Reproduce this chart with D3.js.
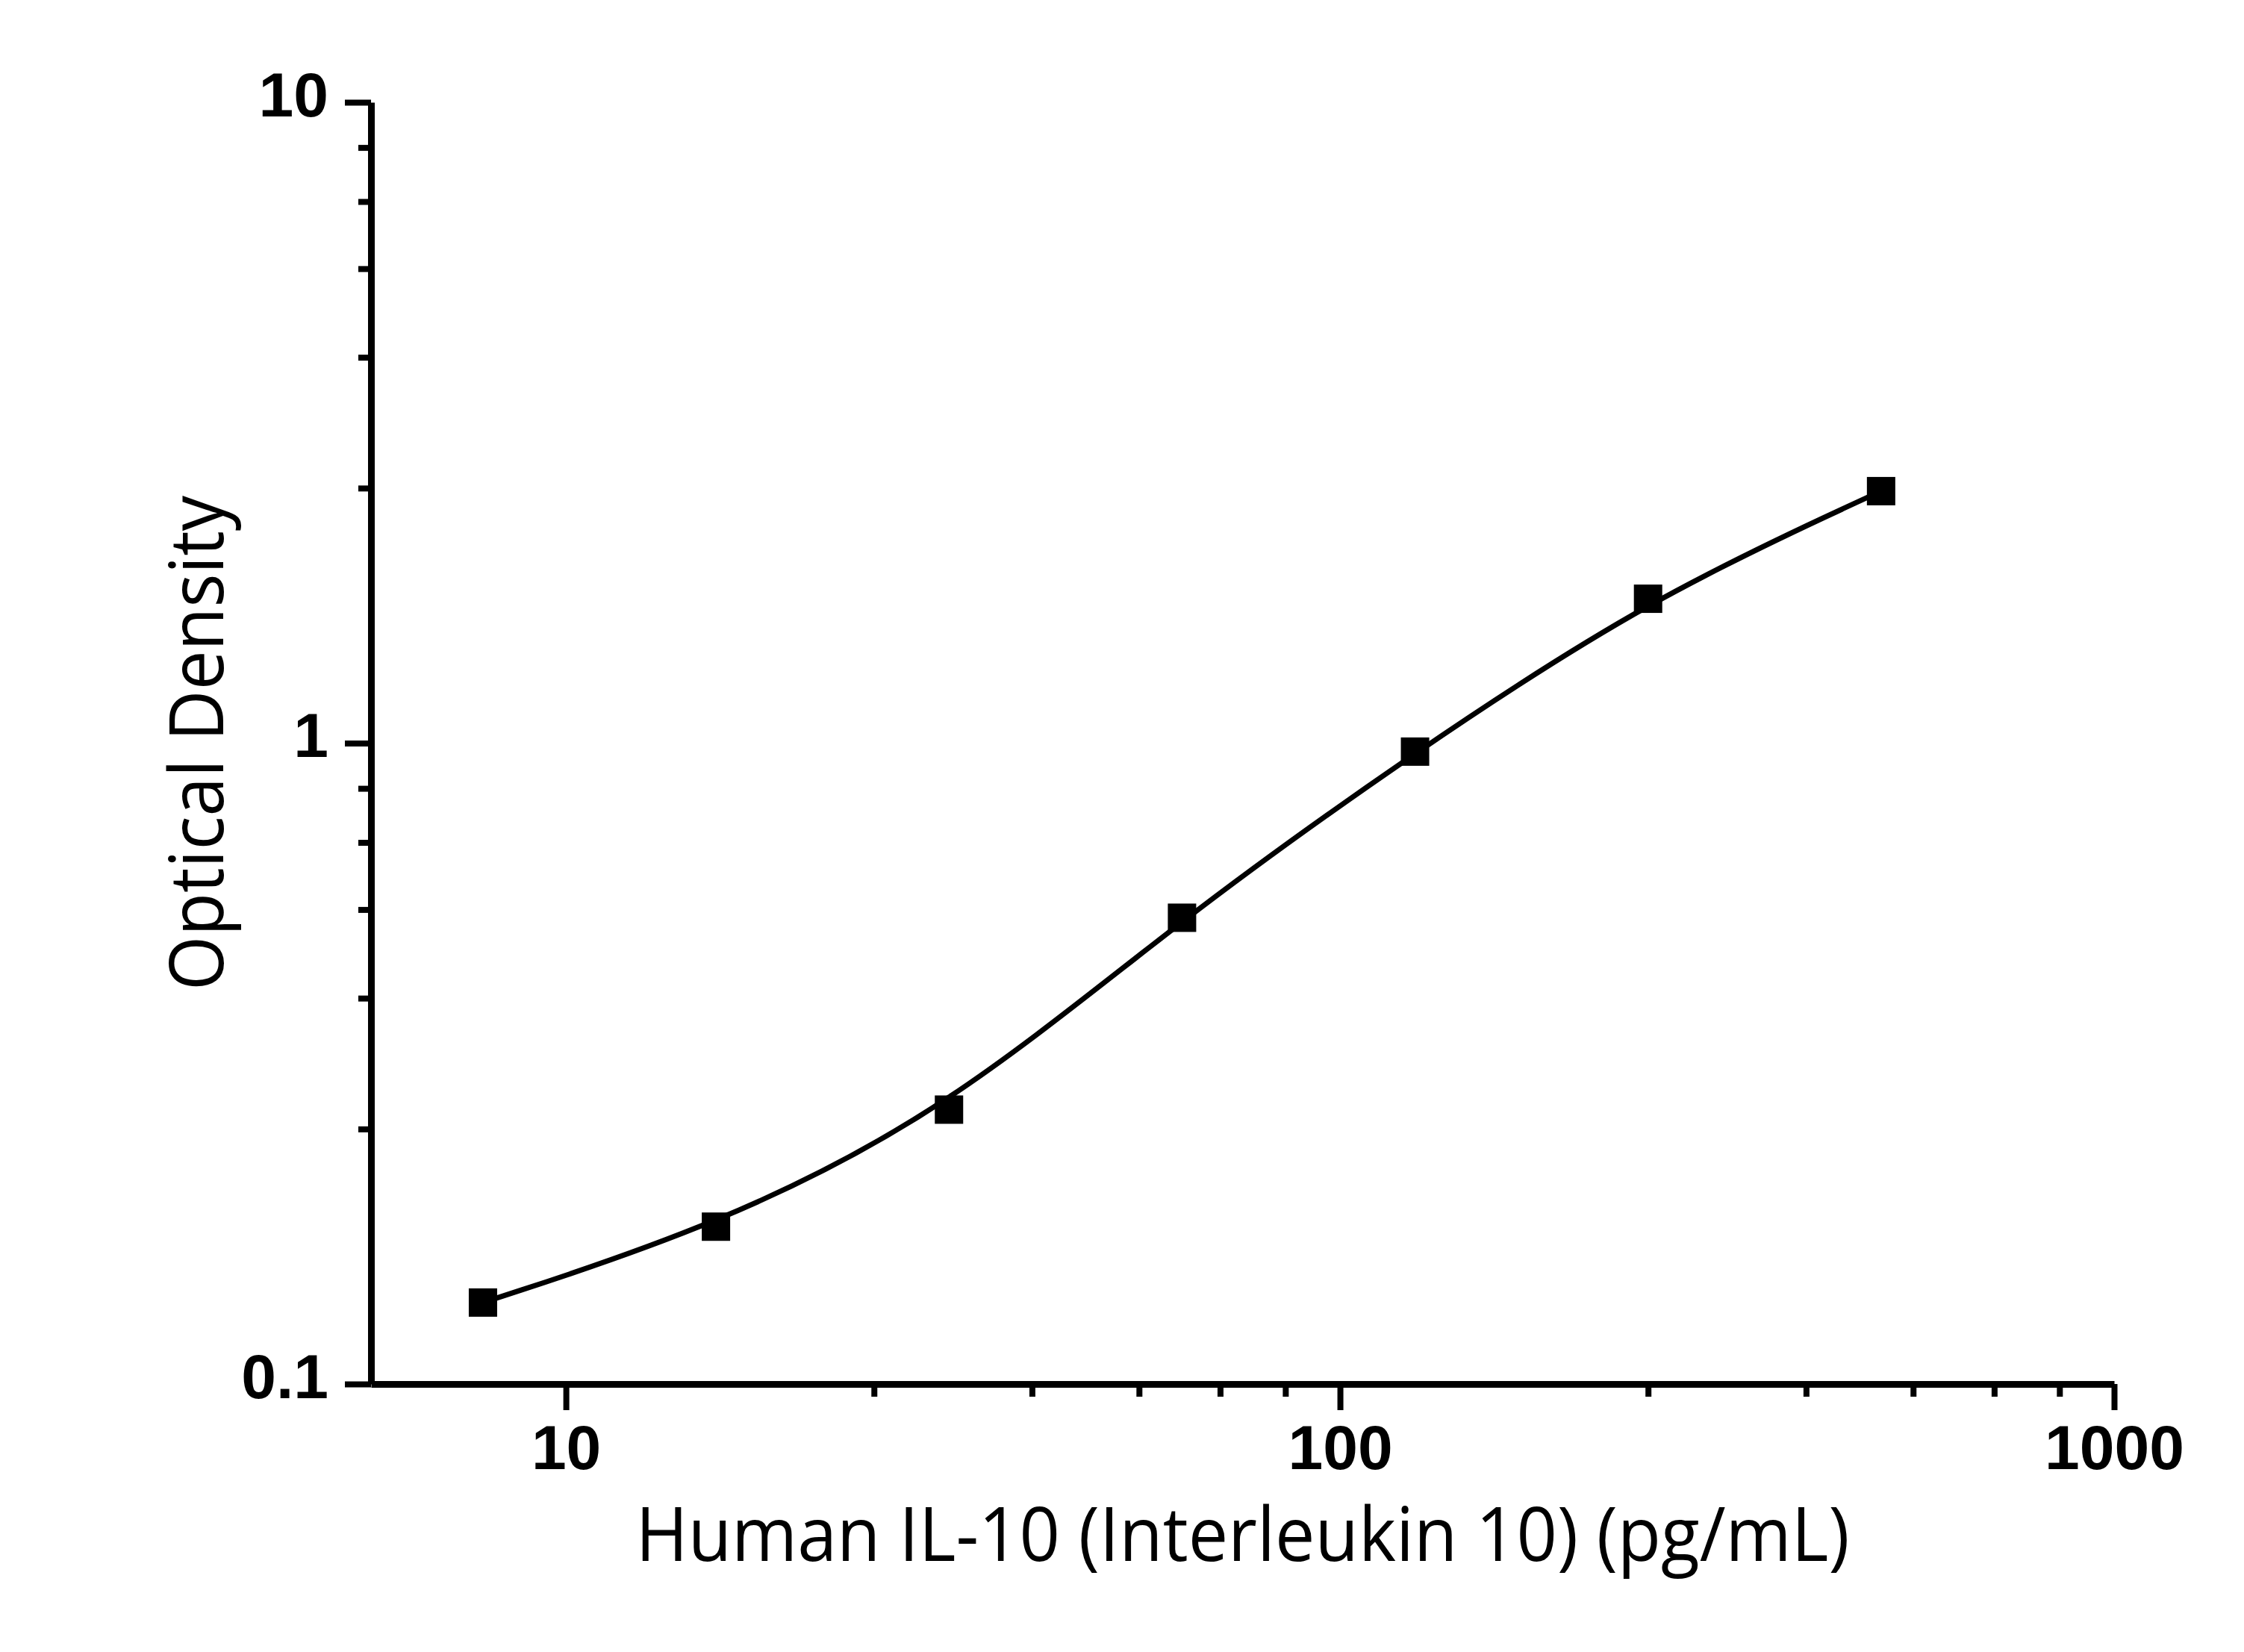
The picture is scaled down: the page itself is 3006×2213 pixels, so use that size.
<!DOCTYPE html>
<html>
<head>
<meta charset="utf-8">
<script src="https://cdn.jsdelivr.net/npm/d3@7"></script>
<style>
  html, body { margin: 0; padding: 0; background: #fff; }
  svg { display: block; }
</style>
</head>
<body>
<svg id="chart" width="3006" height="2213"></svg>
<script>
// ---- data ----
const concentrations = [7.8125, 15.625, 31.25, 62.5, 125, 250, 500];   // pg/mL
const opticalDensity = [0.134, 0.176, 0.268, 0.534, 0.970, 1.680, 2.473];
const xMajorTicks = [10, 100, 1000];
const yMajorTicks = [0.1, 1, 10];
const minorMultipliers = [2.5, 4, 5.5, 7, 8.5];
const xDomain = [5.6, 1000];
const yDomain = [0.1, 10];
const xTitle = "Human IL-10 (Interleukin 10) (pg/mL)";
const yTitle = "Optical Density";

(function () {
// ---- layout ----
const W = 3006, H = 2213;
const pL = 497, pR = 2832, pT = 137, pB = 1854;
const axisW = 9, majorLen = 35, minorLen = 17;

const svg = d3.select("#chart");
svg.append("rect").attr("width", W).attr("height", H).attr("fill", "#fff");

const x = d3.scaleLog().domain(xDomain).range([pL, pR]);
const y = d3.scaleLog().domain(yDomain).range([pB, pT]);

function minorFor(majors) {
  const out = [];
  for (let i = 0; i < majors.length - 1; i++)
    minorMultipliers.forEach(m => out.push(majors[i] * m));
  return out;
}
const xMinor = minorFor(xMajorTicks);
const yMinor = minorFor(yMajorTicks);

const tickFont = "'Liberation Sans', Arial, sans-serif";
function styleAxis(g) {
  g.select(".domain").attr("stroke", "#000").attr("stroke-width", axisW);
  g.selectAll(".tick line").attr("stroke", "#000").attr("stroke-width", 8);
  g.selectAll(".tick text").attr("fill", "#000")
    .attr("font-family", tickFont).attr("font-weight", "bold").attr("font-size", 84);
}

// x minor ticks
svg.append("g").attr("transform", `translate(0,${pB})`)
  .call(d3.axisBottom(x).tickValues(xMinor).tickSize(minorLen).tickFormat(""))
  .call(g => { g.select(".domain").remove(); styleAxis(g); g.selectAll("text").remove(); });
// y minor ticks
svg.append("g").attr("transform", `translate(${pL},0)`)
  .call(d3.axisLeft(y).tickValues(yMinor).tickSize(minorLen).tickFormat(""))
  .call(g => { g.select(".domain").remove(); styleAxis(g); g.selectAll("text").remove(); });

// x major axis
svg.append("g").attr("transform", `translate(0,${pB})`)
  .call(d3.axisBottom(x).tickValues(xMajorTicks).tickSize(majorLen).tickSizeOuter(0)
        .tickPadding(0).tickFormat(d3.format("d")))
  .call(styleAxis)
  .call(g => g.selectAll(".tick text").attr("dy", null).attr("y", 114)
        .attr("dominant-baseline", "alphabetic"));

// y major axis
svg.append("g").attr("transform", `translate(${pL},0)`)
  .call(d3.axisLeft(y).tickValues(yMajorTicks).tickSize(majorLen).tickSizeOuter(0)
        .tickPadding(0).tickFormat(d => d < 1 ? String(d) : d3.format("d")(d)))
  .call(styleAxis)
  .call(g => g.selectAll(".tick text").attr("dy", null).attr("x", -57).attr("y", 18)
        .attr("dominant-baseline", "alphabetic"));

// smooth standard curve
const pts = concentrations.map((c, i) => [x(c), y(opticalDensity[i])]);
svg.append("path")
  .attr("d", d3.line().curve(d3.curveBasis)(pts))
  .attr("fill", "none").attr("stroke", "#000").attr("stroke-width", 7);

// markers
const sq = 38;
svg.append("g").selectAll("rect").data(concentrations).join("rect")
  .attr("x", d => x(d) - sq / 2)
  .attr("y", (d, i) => y(opticalDensity[i]) - sq / 2)
  .attr("width", sq).attr("height", sq).attr("fill", "#000");

// titles
const titleFont = "'Open Sans', 'Noto Sans', sans-serif";
const xt = svg.append("text")
  .attr("x", (pL + pR) / 2).attr("y", 2091)
  .attr("text-anchor", "middle")
  .attr("font-family", titleFont).attr("font-size", 100).attr("fill", "#000")
  .text(xTitle);
const yt = svg.append("text")
  .attr("transform", `translate(299,${(pT + pB) / 2}) rotate(-90)`)
  .attr("text-anchor", "middle")
  .attr("font-family", titleFont).attr("font-size", 100).attr("fill", "#000")
  .text(yTitle);
// match the reference title widths
const xl = xt.node().getComputedTextLength();
if (Math.abs(xl - 1626) > 10) xt.attr("textLength", 1626).attr("lengthAdjust", "spacingAndGlyphs");
const yl = yt.node().getComputedTextLength();
if (Math.abs(yl - 663) > 10) yt.attr("textLength", 663).attr("lengthAdjust", "spacingAndGlyphs");
})();
</script>
</body>
</html>
